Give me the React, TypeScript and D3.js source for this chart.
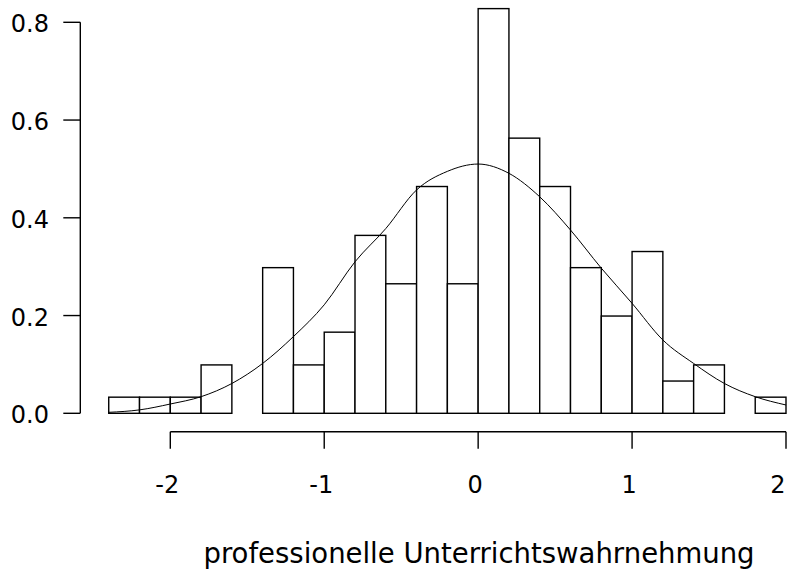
import React, { useEffect, useRef } from "react";
import * as d3 from "d3";

const binEdges = [-2.4, -2.2, -2.0, -1.8, -1.6, -1.4, -1.2, -1.0, -0.8, -0.6, -0.4, -0.2, 0.0, 0.2, 0.4, 0.6, 0.8, 1.0, 1.2, 1.4, 1.6, 1.8, 2.0];
const densities = [0.033, 0.033, 0.033, 0.099, 0.0, 0.298, 0.099, 0.166, 0.364, 0.265, 0.464, 0.265, 0.828, 0.563, 0.464, 0.298, 0.199, 0.331, 0.066, 0.099, 0.0, 0.033];

const curveX = [-2.4, -2.2, -2.0, -1.8, -1.6, -1.4, -1.2, -1.0, -0.8, -0.6, -0.4, -0.2, 0.0, 0.2, 0.4, 0.6, 0.8, 1.0, 1.2, 1.4, 1.6, 1.8, 2.0];
const curveY = [0.002, 0.007, 0.019, 0.034, 0.061, 0.102, 0.157, 0.222, 0.31, 0.378, 0.457, 0.495, 0.51, 0.491, 0.443, 0.375, 0.297, 0.225, 0.15, 0.102, 0.061, 0.034, 0.017];

const xTicks = [-2, -1, 0, 1, 2];
const yTicks = [0, 0.2, 0.4, 0.6, 0.8];
const xTitle = "professionelle Unterrichtswahrnehmung";

const W = 787;
const H = 570;
const FONT = "'DejaVu Sans', sans-serif";

export default function App() {
  const ref = useRef<SVGSVGElement>(null);

  useEffect(() => {
    const svg = d3.select(ref.current);
    svg.selectAll("*").remove();

    const x = d3.scaleLinear().domain([-2, 2]).range([170.3, 786]);
    const y = d3.scaleLinear().domain([0, 0.8]).range([413.3, 22.3]);

    // bars
    const bins = densities.map((d, i) => ({ x0: binEdges[i], x1: binEdges[i + 1], d }));
    svg
      .append("g")
      .selectAll("rect")
      .data(bins)
      .join("rect")
      .attr("x", (b) => x(b.x0))
      .attr("width", (b) => x(b.x1) - x(b.x0))
      .attr("y", (b) => y(b.d))
      .attr("height", (b) => y(0) - y(b.d))
      .attr("fill", "white")
      .attr("stroke", "#000")
      .attr("stroke-width", 1.4);

    // density curve
    const pts = curveX.map((v, i) => [v, curveY[i]] as [number, number]);
    const line = d3
      .line<[number, number]>()
      .x((p) => x(p[0]))
      .y((p) => y(p[1]))
      .curve(d3.curveMonotoneX);
    svg
      .append("path")
      .attr("d", line(pts) || "")
      .attr("fill", "none")
      .attr("stroke", "#000")
      .attr("stroke-width", 1);

    // y axis
    const yAxisX = 80.3;
    const gy = svg.append("g");
    gy.append("line")
      .attr("x1", yAxisX)
      .attr("x2", yAxisX)
      .attr("y1", y(0))
      .attr("y2", y(0.8))
      .attr("stroke", "#000")
      .attr("stroke-width", 1.4);
    gy.selectAll("line.t")
      .data(yTicks)
      .join("line")
      .attr("class", "t")
      .attr("x1", yAxisX - 17)
      .attr("x2", yAxisX)
      .attr("y1", (d) => y(d))
      .attr("y2", (d) => y(d))
      .attr("stroke", "#000")
      .attr("stroke-width", 1.4);
    gy.selectAll("text")
      .data(yTicks)
      .join("text")
      .attr("x", 49)
      .attr("y", (d) => y(d) + 10)
      .attr("text-anchor", "end")
      .attr("font-family", FONT)
      .attr("font-size", 24)
      .attr("fill", "#000")
      .text((d) => d3.format(".1f")(d));

    // x axis
    const xAxisY = 431.7;
    const gx = svg.append("g");
    gx.append("line")
      .attr("x1", x(-2))
      .attr("x2", x(2))
      .attr("y1", xAxisY)
      .attr("y2", xAxisY)
      .attr("stroke", "#000")
      .attr("stroke-width", 1.4);
    gx.selectAll("line.t")
      .data(xTicks)
      .join("line")
      .attr("class", "t")
      .attr("x1", (d) => x(d))
      .attr("x2", (d) => x(d))
      .attr("y1", xAxisY)
      .attr("y2", xAxisY + 17)
      .attr("stroke", "#000")
      .attr("stroke-width", 1.4);
    gx.selectAll("text")
      .data(xTicks)
      .join("text")
      .attr("x", (d) => Math.min(x(d) - 3, 778))
      .attr("y", 493)
      .attr("text-anchor", "middle")
      .attr("font-family", FONT)
      .attr("font-size", 24)
      .attr("fill", "#000")
      .text((d) => String(d));

    svg
      .append("text")
      .attr("x", 479)
      .attr("y", 563)
      .attr("text-anchor", "middle")
      .attr("font-family", FONT)
      .attr("font-size", 27.5)
      .attr("fill", "#000")
      .text(xTitle);
  }, []);

  return (
    <svg
      ref={ref}
      width={W}
      height={H}
      style={{ position: "absolute", left: 0, top: 0, background: "#fff" }}
    />
  );
}
